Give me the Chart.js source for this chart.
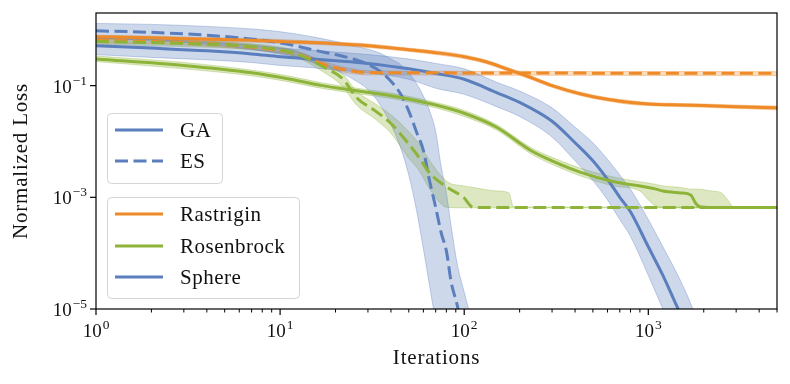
<!DOCTYPE html>
<html>
<head>
<meta charset="utf-8">
<script src="https://cdn.jsdelivr.net/npm/chart.js@4.4.1/dist/chart.umd.min.js"></script>
<style>
  html, body { margin: 0; padding: 0; background: #fff; }
  #wrap { position: relative; width: 790px; height: 384px; }
</style>
</head>
<body>
<div id="wrap"><canvas id="myChart" width="790" height="384"></canvas></div>
<script>
// ---- data ----
var gaSphereIters = [1,2,4,7,10,15,20,30,50,70,100,150,200,300,400,500,600,700,800,1000,1200,1400,1600,1800,2000];
var gaSphere   = [0.52,0.47,0.42,0.37,0.33,0.3,0.28,0.25,0.2,0.165,0.13,0.075,0.05,0.023,0.0095,0.0045,0.0021,0.001,0.00055,0.00013,0.00004,0.000013,0.000005,0.000002,0.000001];
var gaSphereHi = [0.75,0.68,0.6,0.53,0.47,0.43,0.4,0.36,0.3,0.25,0.2,0.115,0.08,0.04,0.018,0.0095,0.0048,0.0025,0.0014,0.0004,0.00013,0.00005,0.00002,0.000008,0.000004];
var gaSphereLo = [0.36,0.32,0.29,0.26,0.23,0.21,0.19,0.17,0.13,0.09,0.07,0.042,0.028,0.012,0.0045,0.002,0.0009,0.0004,0.0002,0.00004,0.00001,0.000003,0.000001,0.0000004,0.0000002];

var esSphereIters = [1,2,4,8,12,16,20,25,30,35,40,45,50,55,60,65,70,75,80,85,92,100,110,120];
var esSphere   = [0.96,0.9,0.8,0.65,0.52,0.42,0.36,0.3,0.24,0.18,0.12,0.072,0.035,0.015,0.0069,0.0019,0.00066,0.00023,0.00011,0.00003,0.000011,0.0000024,0.0000005,0.0000001];
var esSphereHi = [1.3,1.25,1.15,1.0,0.85,0.72,0.62,0.52,0.45,0.38,0.3,0.24,0.17,0.11,0.065,0.035,0.015,0.0035,0.0012,0.0003,0.00006,0.00002,0.000006,0.000002];
var esSphereLo = [0.7,0.65,0.55,0.42,0.32,0.25,0.19,0.13,0.085,0.045,0.02,0.008,0.0025,0.0006,0.00012,0.000025,0.000006,0.000002,0.000001,0.0000005,0.0000003,0.0000002,0.0000001,0.0000001];

var gaRastIters = [1,2,4,7,10,17,30,50,70,100,130,170,230,300,430,600,800,1000,1500,2000,3000,5000];
var gaRast   = [0.75,0.72,0.68,0.65,0.62,0.58,0.52,0.44,0.39,0.33,0.27,0.2,0.14,0.1,0.071,0.057,0.05,0.047,0.045,0.044,0.042,0.04];
var gaRastHi = [0.8,0.77,0.73,0.7,0.67,0.62,0.56,0.47,0.42,0.355,0.29,0.215,0.15,0.107,0.076,0.061,0.054,0.05,0.048,0.047,0.045,0.043];
var gaRastLo = [0.7,0.67,0.63,0.6,0.57,0.54,0.48,0.41,0.36,0.305,0.25,0.185,0.13,0.093,0.066,0.053,0.046,0.044,0.042,0.041,0.039,0.037];

var esRastIters = [1,2,4,8,12,15,18,22,26,30,50,100,300,1000,5000];
var esRast   = [0.65,0.62,0.57,0.47,0.38,0.29,0.23,0.195,0.178,0.172,0.17,0.169,0.168,0.167,0.166];
var esRastHi = [0.72,0.69,0.63,0.52,0.42,0.33,0.26,0.215,0.195,0.185,0.182,0.181,0.18,0.179,0.178];
var esRastLo = [0.58,0.56,0.51,0.42,0.34,0.26,0.205,0.175,0.16,0.156,0.155,0.154,0.153,0.152,0.151];

var gaRosIters = [1,3,7,11,17,26,40,70,100,150,230,300,430,650,900,1000,1100,1200,1500,1700,1800,1900,2200,2500,2700,2900,3200,5000];
var gaRos   = [0.3,0.23,0.17,0.133,0.1,0.081,0.066,0.045,0.032,0.018,0.0069,0.0045,0.0028,0.0019,0.0016,0.0015,0.0014,0.0013,0.0012,0.0011,0.0008,0.00068,0.00066,0.00066,0.00066,0.00066,0.00066,0.00066];
var gaRosHi = [0.34,0.26,0.19,0.15,0.112,0.09,0.074,0.05,0.036,0.02,0.0078,0.0052,0.0033,0.0023,0.0019,0.0018,0.0017,0.0016,0.0015,0.0014,0.0014,0.0014,0.0013,0.0012,0.0009,0.00068,0.00067,0.00067];
var gaRosLo = [0.27,0.2,0.15,0.118,0.089,0.072,0.059,0.04,0.028,0.016,0.006,0.0039,0.0024,0.0016,0.0013,0.0009,0.0007,0.00066,0.00065,0.00065,0.00065,0.00065,0.00065,0.00065,0.00065,0.00065,0.00065,0.00065];

var esRosIters = [1,3,7,12,17,22,26,33,40,50,57,65,81,99,112,150,175,185,300,1000,5000];
var esRos   = [0.62,0.57,0.5,0.38,0.22,0.13,0.061,0.035,0.021,0.009,0.0051,0.0027,0.0015,0.001,0.00066,0.00066,0.00066,0.00066,0.00066,0.00066,0.00066];
var esRosHi = [0.7,0.64,0.56,0.43,0.26,0.16,0.08,0.047,0.03,0.015,0.009,0.0045,0.0019,0.0016,0.0015,0.0013,0.0012,0.00068,0.00067,0.00067,0.00067];
var esRosLo = [0.55,0.5,0.44,0.33,0.18,0.095,0.045,0.025,0.014,0.005,0.003,0.0014,0.00066,0.00065,0.00065,0.00065,0.00065,0.00065,0.00065,0.00065,0.00065];

var xMajor = [1, 10, 100, 1000];
var xMinor = [2,3,4,5,6,7,8,9,20,30,40,50,60,70,80,90,200,300,400,500,600,700,800,900,2000,3000,4000,5000];
var yMajor = [1e-1, 1e-3, 1e-5];
var methodNames = ['GA', 'ES'];
var functionNames = ['Rastrigin', 'Rosenbrock', 'Sphere'];

// ---- styling ----
var ORANGE = '#ee8a27', GREEN = '#8db439', BLUE = '#5b7fbd';
var DASH = [13, 5.5];
var SERIF = '"Liberation Serif", "DejaVu Serif", serif';

function hexA(hex, a) {
    var n = parseInt(hex.slice(1), 16);
    return 'rgba(' + (n >> 16) + ',' + ((n >> 8) & 255) + ',' + (n & 255) + ',' + a + ')';
}
function pts(xs, ys) {
    return xs.map(function (x, i) { return { x: x, y: ys[i] }; });
}
function band(xs, hi, lo, color) {
    return [{
        data: pts(xs, hi), borderColor: hexA(color, 0.35), borderWidth: 1,
        backgroundColor: hexA(color, 0.3), fill: '+1', order: 10
    }, {
        data: pts(xs, lo), borderColor: hexA(color, 0.35), borderWidth: 1,
        fill: false, order: 10
    }];
}
function line(xs, ys, color, dashed) {
    return {
        data: pts(xs, ys), borderColor: color, borderWidth: 3,
        borderDash: dashed ? DASH : [], fill: false, order: 1
    };
}

var datasets = [].concat(
    band(esSphereIters, esSphereHi, esSphereLo, BLUE),
    band(gaSphereIters, gaSphereHi, gaSphereLo, BLUE),
    band(esRosIters, esRosHi, esRosLo, GREEN),
    band(gaRosIters, gaRosHi, gaRosLo, GREEN),
    band(esRastIters, esRastHi, esRastLo, ORANGE),
    band(gaRastIters, gaRastHi, gaRastLo, ORANGE),
    [line(gaRosIters, gaRos, GREEN, false),
     line(esRosIters, esRos, GREEN, true),
     line(gaRastIters, gaRast, ORANGE, false),
     line(esRastIters, esRast, ORANGE, true),
     line(gaSphereIters, gaSphere, BLUE, false),
     line(esSphereIters, esSphere, BLUE, true)]
);
datasets.forEach(function (d) {
    d.pointRadius = 0;
    d.clip = 0;
    d.cubicInterpolationMode = 'monotone';
});

// draws "10" with a superscript exponent
function drawPow(ctx, exp, x, y, align) {
    var base = '10', sup = exp;
    ctx.font = '19px ' + SERIF;
    var wb = ctx.measureText(base).width;
    ctx.font = '13.5px ' + SERIF;
    var ws = ctx.measureText(sup).width;
    var start = align === 'right' ? x - wb - ws - 1 : x - (wb + ws + 1) / 2;
    ctx.textAlign = 'left';
    ctx.textBaseline = 'alphabetic';
    ctx.font = '19px ' + SERIF;
    ctx.fillText(base, start, y);
    ctx.font = '13.5px ' + SERIF;
    ctx.fillText(sup, start + wb + 1, y - 8);
}

function boxPath(ctx, x, y, w, h, r) {
    ctx.beginPath();
    ctx.moveTo(x + r, y);
    ctx.lineTo(x + w - r, y);
    ctx.quadraticCurveTo(x + w, y, x + w, y + r);
    ctx.lineTo(x + w, y + h - r);
    ctx.quadraticCurveTo(x + w, y + h, x + w - r, y + h);
    ctx.lineTo(x + r, y + h);
    ctx.quadraticCurveTo(x, y + h, x, y + h - r);
    ctx.lineTo(x, y + r);
    ctx.quadraticCurveTo(x, y, x + r, y);
    ctx.closePath();
}

function drawLegend(ctx, x, y, w, h, rows) {
    boxPath(ctx, x + 0.5, y + 0.5, w, h, 4);
    ctx.fillStyle = 'rgba(255,255,255,0.85)';
    ctx.fill();
    ctx.strokeStyle = '#d4d4d4';
    ctx.lineWidth = 1;
    ctx.stroke();
    rows.forEach(function (r) {
        ctx.beginPath();
        ctx.setLineDash(r.dash);
        ctx.strokeStyle = r.color;
        ctx.lineWidth = 3;
        ctx.moveTo(x + 8, r.y);
        ctx.lineTo(x + 56, r.y);
        ctx.stroke();
        ctx.setLineDash([]);
        ctx.fillStyle = '#111';
        ctx.font = '21px ' + SERIF;
        ctx.letterSpacing = '0.5px';
        ctx.textAlign = 'left';
        ctx.textBaseline = 'middle';
        ctx.fillText(r.label, x + 73, r.y + 1);
        ctx.letterSpacing = '0px';
    });
}

var decor = {
    id: 'decor',
    afterDraw: function (chart) {
        var ctx = chart.ctx, a = chart.chartArea;
        var xs = chart.scales.x, ys = chart.scales.y;
        ctx.save();
        ctx.strokeStyle = '#000';
        ctx.lineWidth = 1.2;
        ctx.strokeRect(a.left, a.top, a.right - a.left, a.bottom - a.top);

        ctx.lineWidth = 1;
        xMinor.forEach(function (v) {
            var px = xs.getPixelForValue(v);
            ctx.beginPath(); ctx.moveTo(px, a.bottom); ctx.lineTo(px, a.bottom + 3.5); ctx.stroke();
        });
        ctx.lineWidth = 1.2;
        xMajor.forEach(function (v) {
            var px = xs.getPixelForValue(v);
            ctx.beginPath(); ctx.moveTo(px, a.bottom); ctx.lineTo(px, a.bottom + 6); ctx.stroke();
        });
        yMajor.forEach(function (v) {
            var py = ys.getPixelForValue(v);
            ctx.beginPath(); ctx.moveTo(a.left, py); ctx.lineTo(a.left - 6, py); ctx.stroke();
        });

        ctx.fillStyle = '#111';
        xMajor.forEach(function (v) {
            drawPow(ctx, String(Math.round(Math.log10(v))), xs.getPixelForValue(v), a.bottom + 28, 'center');
        });
        yMajor.forEach(function (v) {
            drawPow(ctx, '\u2212' + Math.round(-Math.log10(v)), a.left - 9, ys.getPixelForValue(v) + 7, 'right');
        });

        ctx.font = '21px ' + SERIF;
        ctx.letterSpacing = '0.8px';
        ctx.textAlign = 'center';
        ctx.textBaseline = 'alphabetic';
        ctx.fillText('Iterations', (a.left + a.right) / 2, 364);
        ctx.save();
        ctx.translate(27, (a.top + a.bottom) / 2);
        ctx.rotate(-Math.PI / 2);
        ctx.textBaseline = 'alphabetic';
        ctx.fillText('Normalized Loss', 0, 0);
        ctx.restore();
        ctx.letterSpacing = '0px';

        drawLegend(ctx, 107, 113, 115, 70, [
            { label: methodNames[0], color: BLUE, dash: [], y: 130 },
            { label: methodNames[1], color: BLUE, dash: DASH, y: 161 }
        ]);
        drawLegend(ctx, 107, 197, 192, 101, [
            { label: functionNames[0], color: ORANGE, dash: [], y: 214 },
            { label: functionNames[1], color: GREEN, dash: [], y: 246 },
            { label: functionNames[2], color: BLUE, dash: [], y: 277 }
        ]);
        ctx.restore();
    }
};

var ctx = document.getElementById('myChart').getContext('2d');
var chart = new Chart(ctx, {
    type: 'line',
    data: { datasets: datasets },
    options: {
        responsive: false,
        animation: false,
        devicePixelRatio: 1,
        layout: { padding: { left: 96, top: 13, right: 13, bottom: 75 } },
        plugins: { legend: { display: false }, tooltip: { enabled: false } },
        scales: {
            x: { type: 'logarithmic', min: 1, max: 5000, display: false },
            y: { type: 'logarithmic', min: 1e-5, max: 2, display: false }
        }
    },
    plugins: [decor]
});
</script>
</body>
</html>
